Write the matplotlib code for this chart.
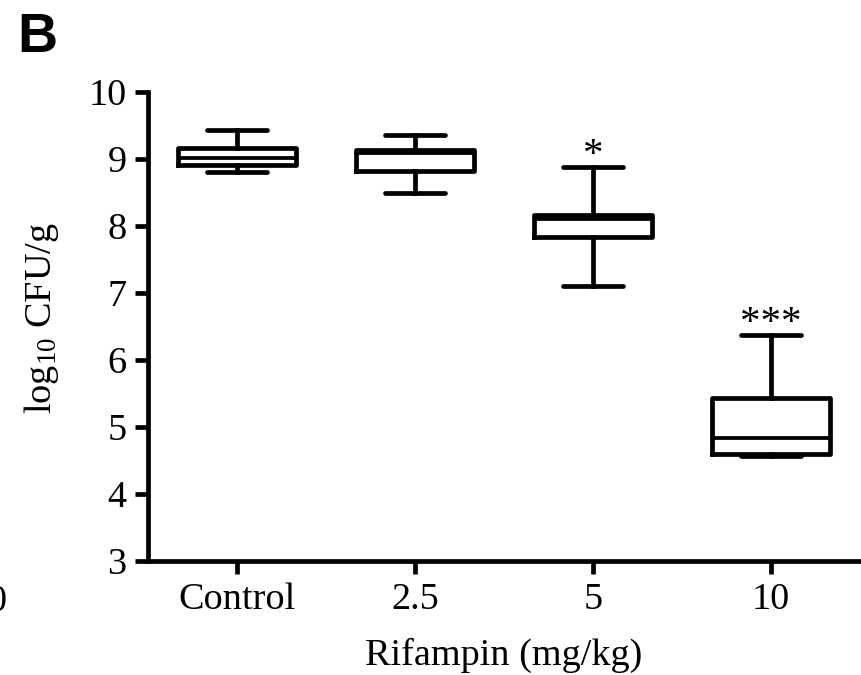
import matplotlib
matplotlib.use("Agg")
import matplotlib.pyplot as plt

# log10 CFU/g per rifampin dose
groups   = ["Control", "2.5", "5", "10"]
whis_lo  = [8.80, 8.49, 7.11, 4.56]
q1       = [8.91, 8.82, 7.84, 4.60]
medians  = [9.02, 9.09, 8.11, 4.84]
q3       = [9.17, 9.14, 8.17, 5.44]
whis_hi  = [9.43, 9.36, 8.88, 6.37]
sig      = ["", "", "*", "***"]

yticks = [3, 4, 5, 6, 7, 8, 9, 10]

plt.rcParams["font.family"] = ["Liberation Serif", "DejaVu Serif"]
plt.rcParams["mathtext.fontset"] = "custom"
plt.rcParams["mathtext.rm"] = "Liberation Serif"
plt.rcParams["mathtext.it"] = "Liberation Serif:italic"

LW = 3.4
FS = 27.5

fig = plt.figure(figsize=(8.62, 6.75), dpi=100)
ax = fig.add_axes([148 / 862, 1 - 561 / 675, (860 - 148) / 862, (561 - 92) / 675])

stats = []
for g, lo, a, m, b, hi in zip(groups, whis_lo, q1, medians, q3, whis_hi):
    stats.append({"label": g, "whislo": lo, "q1": a, "med": m, "q3": b,
                  "whishi": hi, "fliers": []})

pos = list(range(1, len(groups) + 1))
ax.bxp(stats, positions=pos, widths=0.66, capwidths=0.34, showfliers=False,
       boxprops=dict(color="black", linewidth=LW),
       whiskerprops=dict(color="black", linewidth=LW),
       capprops=dict(color="black", linewidth=LW, solid_capstyle="round"),
       medianprops=dict(color="black", linewidth=LW * 0.8))

for p, s, hi in zip(pos, sig, whis_hi):
    if s:
        ax.text(p, hi + 0.03, s, ha="center", va="baseline", fontsize=FS + 2)

ax.set_xlim(0.5, 4.5)
ax.set_ylim(3, 10)
ax.set_yticks(yticks)
ax.set_xticks(pos)
ax.set_xticklabels(groups)
for side in ["top", "right"]:
    ax.spines[side].set_visible(False)
for side in ["left", "bottom"]:
    ax.spines[side].set_linewidth(LW)
ax.tick_params(axis="both", direction="out", length=9.5, width=LW,
               labelsize=FS, pad=6)

fig.text(504 / 862, 1 - 665 / 675, "Rifampin (mg/kg)", ha="center",
         va="baseline", fontsize=FS)
fig.text(42 / 862, 1 - 318 / 675, r"log$_{10}$ CFU/g", ha="center",
         va="center", rotation=90, fontsize=FS)
fig.text(17 / 862, 1 - 52 / 675, "B", ha="left", va="baseline",
         fontsize=40, fontweight="bold", family="Liberation Sans")
# edge of the neighbouring panel's tick label, cut by the crop in the source
fig.text(7 / 862, 1 - 611 / 675, "0", ha="right", va="baseline", fontsize=FS)

fig.savefig("out.png", dpi=100)
